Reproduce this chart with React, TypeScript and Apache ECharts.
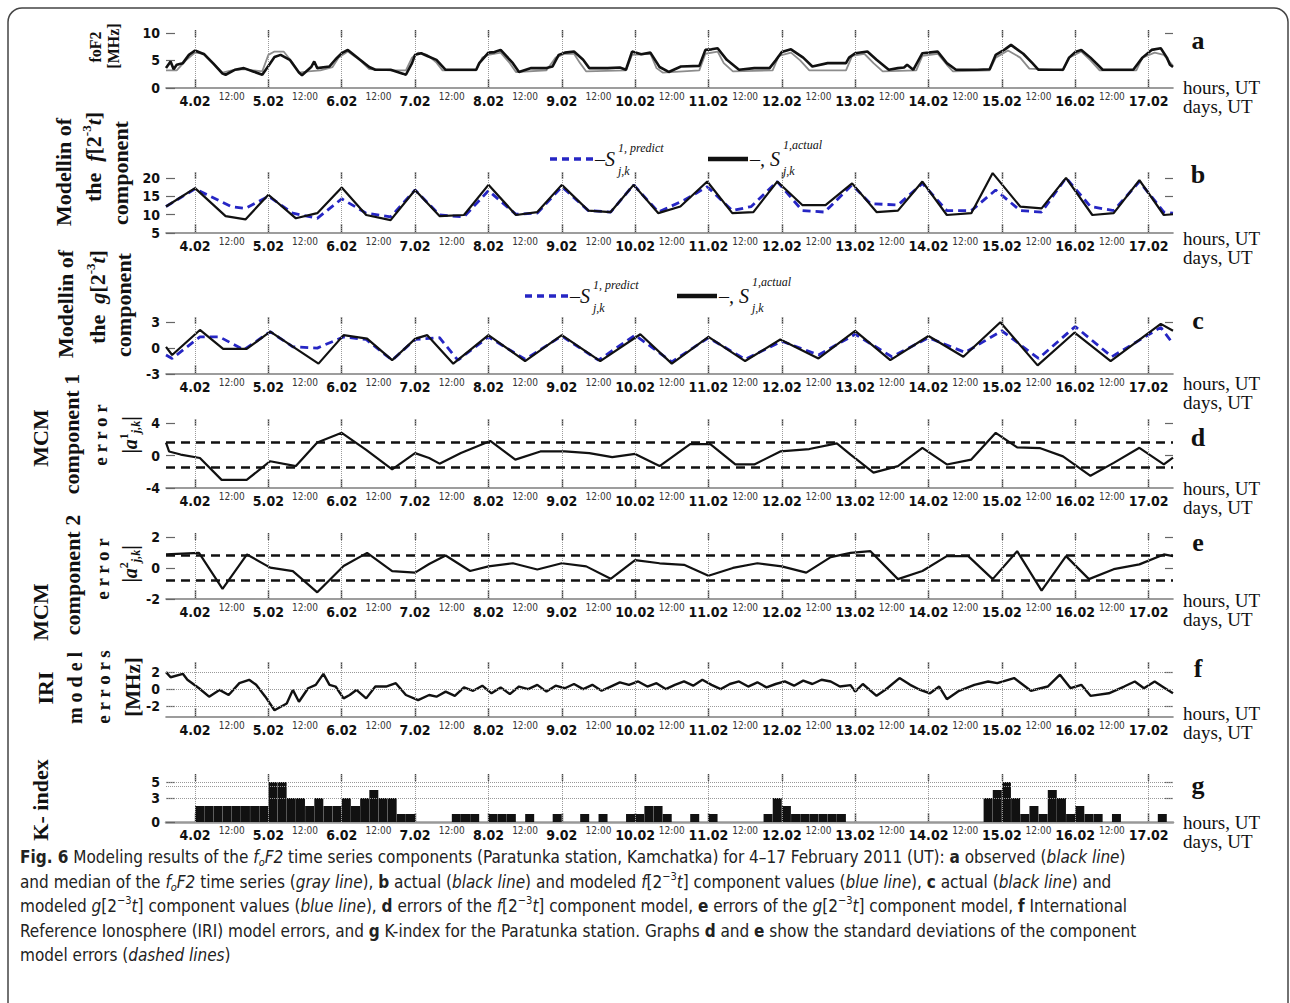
import React, { useEffect, useRef } from 'react';
import * as echarts from 'echarts';

// ---------- axis categories / ticks ----------
const DAY_LABELS = ['4.02','5.02','6.02','7.02','8.02','9.02','10.02','11.02','12.02','13.02','14.02','15.02','16.02','17.02'];
const HALF_LABEL = '12:00';
const X_MIN = -9.5;
const X_MAX = 320;

// ---------- panel a: foF2 observed (black) and median (gray), [hour from 4.02 00UT, MHz] ----------
const FOF2_OBS = [
  [-9.5,3.6],[-8,4.8],[-7,3.4],[-6,4.2],[-4,4.5],[-2,6.0],[0,6.8],[3,6.1],[6,4.4],[9,2.6],[10,2.4],[13,3.3],[16,3.6],[19,3.0],[22,2.4],
  [24,4.0],[26,5.6],[28,6.0],[31,5.1],[34,2.8],[35,2.3],[38,3.8],[39,4.8],[40,3.6],[44,3.9],[46,5.2],[48,6.3],[50,6.9],[54,5.1],[57,3.8],
  [59,3.3],[64,3.3],[68,2.6],[69,2.4],[71,4.5],[72,6.0],[74,6.3],[76,5.8],[79,5.1],[82,3.3],[86,3.3],[92,3.3],[93,4.5],[96,6.4],[98,6.5],
  [100,6.9],[104,4.5],[106,2.9],[110,3.6],[115,3.6],[117,3.9],[119,6.0],[121,6.4],[124,6.6],[127,5.1],[129,3.6],[135,3.6],[139,3.7],
  [141,3.3],[143,6.6],[146,6.1],[149,6.4],[152,3.8],[155,2.9],[159,3.9],[165,4.0],[167,6.9],[169,7.0],[171,7.2],[174,5.1],[178,3.3],
  [183,3.6],[188,3.6],[190,5.0],[192,6.5],[195,7.0],[199,5.5],[202,3.9],[207,4.5],[213,4.5],[214,5.5],[216,6.3],[220,6.6],[223,5.1],
  [227,3.3],[230,3.6],[232,3.7],[233,4.2],[235,3.3],[238,6.3],[240,6.4],[243,6.6],[246,4.5],[249,3.3],[256,3.3],[260,3.4],[262,6.0],
  [265,7.0],[267,7.8],[269,7.0],[271,6.2],[274,4.5],[276,3.3],[284,3.3],[286,5.5],[288,6.5],[290,6.9],[293,5.5],[297,3.3],[307,3.3],
  [310,5.5],[313,6.9],[316,7.2],[318,5.5],[319,4.2],[320,3.8]
];
const FOF2_MEDIAN = [
  [-9.5,3.2],[-6,3.2],[-3,5.0],[0,6.4],[3,6.2],[6,4.5],[9,2.8],[12,3.2],[16,3.4],[19,3.2],[22,3.0],[24,6.0],[26,6.6],[29,6.6],[32,4.5],
  [34,2.8],[37,3.0],[41,3.2],[45,3.8],[47,5.5],[50,6.6],[54,5.0],[57,3.4],[64,3.2],[69,3.2],[71,5.5],[73,6.4],[76,6.0],[79,4.6],[81,3.2],
  [92,3.2],[94,5.5],[96,6.0],[100,6.4],[103,4.5],[105,2.9],[115,3.2],[118,5.5],[121,6.2],[124,6.2],[126,4.5],[128,3.0],[141,3.2],
  [143,6.0],[149,6.2],[151,3.6],[153,2.8],[165,3.2],[167,6.2],[171,6.6],[173,4.5],[176,3.0],[189,3.2],[191,5.8],[195,6.4],[198,5.0],
  [201,3.2],[213,3.2],[215,5.8],[219,6.2],[222,4.5],[225,3.0],[236,3.2],[238,5.8],[243,6.2],[246,4.2],[248,3.0],[260,3.2],[262,5.5],
  [266,6.8],[270,5.5],[273,3.5],[284,3.2],[286,5.5],[290,6.6],[293,5.0],[296,3.2],[308,3.2],[310,5.5],[314,6.4],[317,6.0],[320,4.0]
];

// ---------- panel b: f[2^-3 t] component ----------
const F_ACTUAL = [
  [-9.5,12.2],[0,17.2],[10,9.6],[16.5,8.7],[24,15.4],[33,9.0],[40,10.4],[48,17.4],[56,9.9],[64,8.5],[72,16.7],[80,9.6],[88,9.9],
  [96,18.1],[105,9.9],[112,10.7],[120,18.1],[128.7,11.1],[136,10.7],[143.5,18.1],[151.6,10.4],[158.8,12.2],[167.6,19.0],[175.8,10.4],
  [182.7,10.7],[190.5,19.0],[198.7,12.6],[206.3,12.6],[215,18.5],[223,10.7],[230,11.1],[238,19.0],[246,9.9],[254,10.4],[261,21.3],
  [270,12.2],[277,11.7],[285,20.0],[293.6,9.9],[300.6,10.4],[309,19.4],[317,9.9],[320,10.1]
];
const F_PREDICT = [
  [-9.5,12.2],[0,17.0],[11.8,12.2],[16.5,11.7],[24,15.0],[32,10.4],[40,9.0],[48,14.3],[56,10.4],[64,9.4],[72,16.7],[80,9.9],[88,9.4],
  [96,16.5],[105,10.1],[112,10.4],[120,17.6],[128.7,11.1],[136,10.7],[143.5,18.1],[151.6,10.7],[160,13.9],[167.6,17.6],[175.8,11.1],
  [182,12.2],[190.5,19.0],[198.7,11.1],[206,10.7],[215,18.1],[221,13.0],[230,12.6],[238,18.5],[246,11.1],[254,11.1],[262,16.7],
  [270,11.1],[277,10.7],[285,20.0],[293,12.2],[300.6,11.1],[309,19.0],[317,10.7],[320,10.4]
];

// ---------- panel c: g[2^-3 t] component ----------
const G_ACTUAL = [
  [-9.5,0.15],[-7.5,-0.8],[1.6,2.1],[9.2,-0.1],[16.9,-0.1],[24.6,1.9],[40.4,-1.8],[48.6,1.5],[56.3,1.1],[64.5,-1.4],[72.1,1.1],
  [76,1.5],[84.5,-1.8],[96,1.5],[108,-1.5],[120,1.5],[132.6,-1.5],[145.7,1.6],[156,-1.8],[168,1.3],[180,-1.5],[191.5,1.0],[204,-1.2],
  [216,2.0],[227.5,-1.4],[240,1.4],[251.4,-1.0],[263.5,3.0],[275.7,-2.0],[287.8,1.8],[299.6,-1.5],[316,2.8],[320,2.0]
];
const G_PREDICT = [
  [-9.5,-0.8],[-7.5,-1.2],[1.6,1.3],[8,1.3],[16,-0.2],[24.6,1.9],[32,0.15],[40,0.0],[48.6,1.3],[56,1.0],[64.5,-1.4],[72,1.0],[80,1.2],
  [86,-1.4],[96,1.3],[108,-1.3],[120,1.4],[132,-1.4],[144,1.5],[156,-1.6],[168,1.2],[180,-1.3],[192,0.8],[204,-0.8],[216,1.6],
  [228,-1.0],[240,1.2],[252,-0.5],[264,2.0],[276,-1.2],[288,2.5],[300,-1.0],[316,2.4],[320,0.5]
];

// ---------- panel d: MCM component 1 error, std lines ----------
const ERR1 = [
  [-9.5,1.6],[-8.5,0.5],[-4.7,0.12],[1.6,-0.3],[8.7,-3.0],[16.9,-3.0],[24.6,-0.7],[33,-1.3],[40,1.6],[48,2.8],[56,0.7],[64.5,-1.7],
  [72,0.3],[76.6,-0.3],[80,-1.0],[87,0.3],[96.6,1.8],[104.8,-0.5],[113,0.5],[121,0.5],[129,0.3],[136.5,-0.2],[144,0.2],[152,-1.3],
  [162,1.4],[168.6,1.4],[176.8,-1.1],[183,-1.1],[191.5,0.5],[201,0.8],[210,1.5],[214.5,0.1],[222,-2.1],[230,-1.3],[238,0.95],
  [246,-1.1],[254,-0.5],[262,2.8],[269,1.0],[276.6,0.9],[284,-0.1],[293,-2.5],[300.6,-0.9],[309,0.95],[317,-1.1],[320,-0.25]
];
const ERR1_STD = [1.6, -1.4];

// ---------- panel e: MCM component 2 error, std lines ----------
const ERR2 = [
  [-9.5,0.87],[1.3,0.97],[9,-1.35],[17,0.87],[24.6,0.02],[32,-0.2],[40,-1.57],[48.6,0.13],[56.3,0.97],[64.5,-0.2],[72,-0.3],
  [76.6,0.25],[82,0.8],[90,-0.2],[96,0.1],[104,0.3],[112,-0.1],[120,0.3],[128,0.1],[136,-0.7],[144,0.5],[152,0.3],[160,0.2],
  [168,-0.5],[176,0.0],[184,0.3],[192,0.1],[200,-0.3],[208,0.7],[214.5,0.97],[221,1.08],[230,-0.72],[238,-0.2],[246,0.76],
  [253,0.76],[261,-0.72],[269,1.08],[277,-1.46],[285,0.76],[292.5,-0.72],[300.6,-0.08],[309,0.23],[317,0.87],[320,0.76]
];
const ERR2_STD = [0.8, -0.8];

// ---------- panel f: IRI model errors ----------
const IRI_ERR = [
  [-9.5,2.0],[-8,1.4],[-4,1.8],[-2.5,1.1],[1.3,0.1],[4.6,-0.9],[8,-0.1],[11,-0.7],[14.5,0.7],[17.7,1.1],[20,0.5],[23,-0.9],[26,-2.5],
  [30,-1.7],[32,-0.1],[34,-1.5],[37,0.1],[39.5,0.5],[42,1.8],[44,0.5],[46,0.3],[48.6,-1.1],[50.6,-0.7],[52.8,-0.1],[56,-1.1],[59,0.3],
  [62.5,0.3],[65.7,0.7],[69,-0.7],[73,-1.3],[76.6,-0.7],[79,-0.9],[82,-0.3],[85,-0.8],[88,0.2],[91,-0.2],[94,0.4],[97,-0.5],[100,0.2],
  [103,-0.6],[106,0.3],[109,0.0],[112,0.5],[115,-0.3],[118,0.4],[121,0.1],[124,0.6],[127,0.0],[130,0.5],[133,-0.2],[136,0.3],[139,0.8],
  [142,0.5],[145,0.9],[148,0.3],[151,0.7],[154,0.0],[157,0.5],[160,0.9],[163,0.4],[166,1.1],[169,0.5],[172,0.0],[175,0.6],[178,0.9],
  [181,0.3],[184,0.8],[187,0.2],[190,0.6],[193,0.9],[196,0.4],[199,1.0],[202,0.6],[205,1.1],[208,0.9],[211,0.3],[214.5,0.47],
  [216,-0.3],[218.5,0.6],[223,-0.8],[226,-0.05],[230.5,1.3],[234,0.5],[237,-0.05],[240.5,-0.5],[243.5,0.3],[246,-1.2],[250,-0.2],
  [255,0.5],[259.5,0.9],[262.5,0.7],[268,1.3],[273.5,-0.2],[279,0.3],[283,1.7],[286.5,0.1],[290,0.5],[293,-0.8],[299,-0.5],[304,0.3],
  [307.5,0.9],[310.5,0.1],[314,0.9],[317,0.2],[320,-0.5]
];

// ---------- panel g: K-index (3-hour intervals, start hour) ----------
const K_START = [0,3,6,9,12,15,18,21,24,27,30,33,36,39,42,45,48,51,54,57,60,63,66,69,84,87,90,96,99,102,108,117,126,132,141,
  144,147,150,153,162,168,186,189,192,195,198,201,204,207,210,258,261,264,267,270,273,276,279,282,285,288,291,294,300,315];
const K_VALUE = [2,2,2,2,2,2,2,2,5,5,3,3,2,3,2,2,3,2,3,4,3,3,1,1,1,1,1,1,1,1,1,1,1,1,1,
  1,2,2,1,1,1,1,3,2,1,1,1,1,1,1,3,4,5,3,1,2,1,4,3,1,2,1,1,1,1];

// ---------- layout ----------
const NARROW = '"Liberation Sans Narrow","Arial Narrow","DejaVu Sans Condensed",sans-serif';
const SERIF = '"Liberation Serif","Times New Roman",serif';
const BLUE = '#2626c4';

const PANELS = [
  { top: 30, height: 58, min: 0, max: 10.5, ticks: [0, 5, 10], rticks: [10] },
  { top: 172, height: 61, min: 5, max: 21.6, ticks: [5, 10, 15, 20], rticks: [15, 20] },
  { top: 317, height: 57, min: -3, max: 3.6, ticks: [-3, 0, 3], rticks: [3] },
  { top: 419, height: 69, min: -4, max: 4.5, ticks: [-4, 0, 4], rticks: [0, 4] },
  { top: 533, height: 66, min: -2, max: 2.25, ticks: [-2, 0, 2], rticks: [0, 2] },
  { top: 662, height: 55, min: -3.3, max: 3.2, ticks: [-2, 0, 2], rticks: [-2, 2] },
  { top: 774, height: 48, min: 0, max: 6, ticks: [0, 3, 5], rticks: [3, 5] },
];

const RIGHT = [
  { letter: 'a', ly: 40, hy: 87, dy: 106 },
  { letter: 'b', ly: 174, hy: 238, dy: 257 },
  { letter: 'c', ly: 320, hy: 383, dy: 402 },
  { letter: 'd', ly: 437, hy: 488, dy: 507 },
  { letter: 'e', ly: 542, hy: 600, dy: 619 },
  { letter: 'f', ly: 668, hy: 713, dy: 732 },
  { letter: 'g', ly: 785, hy: 822, dy: 841 },
];

const CAPTION = [
  '{b|Fig. 6} Modeling results of the {i|f}{sub|o}{i|F2} time series components (Paratunka station, Kamchatka) for 4–17 February 2011 (UT): {b|a} observed ({i|black line})',
  'and median of the {i|f}{sub|o}{i|F2} time series ({i|gray line}), {b|b} actual ({i|black line}) and modeled {i|f}[2{sup|−3}{i|t}] component values ({i|blue line}), {b|c} actual ({i|black line}) and',
  'modeled {i|g}[2{sup|−3}{i|t}] component values ({i|blue line}), {b|d} errors of the {i|f}[2{sup|−3}{i|t}] component model, {b|e} errors of the {i|g}[2{sup|−3}{i|t}] component model, {b|f} International',
  'Reference Ionosphere (IRI) model errors, and {b|g} K-index for the Paratunka station. Graphs {b|d} and {b|e} show the standard deviations of the component',
  'model errors ({i|dashed lines})',
];

function buildOption() {
  const DAY_HOURS = DAY_LABELS.map((_, i) => i * 24);
  const HALF_HOURS = DAY_LABELS.slice(0, -1).map((_, i) => i * 24 + 12);

  const grid: any[] = [];
  const xAxis: any[] = [];
  const yAxis: any[] = [];
  PANELS.forEach((p, i) => {
    grid.push({ left: 166, right: 117, top: p.top, height: p.height });
    xAxis.push({
      gridIndex: i, type: 'value', min: X_MIN, max: X_MAX, position: 'bottom',
      axisLine: { show: true, onZero: false, lineStyle: { color: i === 6 ? '#999' : '#7c7c7c', width: i === 6 ? 2.5 : 1.6 } },
      axisTick: { show: true, inside: true, length: 9, customValues: DAY_HOURS, lineStyle: { color: '#444', width: 1.4 } },
      axisLabel: { show: true, customValues: DAY_HOURS, margin: 6, formatter: (v: number) => DAY_LABELS[Math.round(v / 24)],
        fontFamily: NARROW, fontWeight: 'bold', fontSize: 14, color: '#111' },
      splitLine: { show: false },
    });
    xAxis.push({
      gridIndex: i, type: 'value', min: X_MIN, max: X_MAX, position: 'bottom',
      axisLine: { show: false, onZero: false }, axisTick: { show: false },
      axisLabel: { show: true, customValues: HALF_HOURS, margin: 3, formatter: () => HALF_LABEL,
        fontFamily: NARROW, fontSize: 10, color: '#333' },
      splitLine: { show: false },
    });
    xAxis.push({
      gridIndex: i, type: 'value', min: X_MIN, max: X_MAX, position: 'top',
      axisLine: { show: false, onZero: false },
      axisTick: { show: true, inside: true, length: 7, customValues: DAY_HOURS, lineStyle: { color: '#444', width: 1.4 } },
      axisLabel: { show: false }, splitLine: { show: false },
    });
    yAxis.push({
      gridIndex: i, type: 'value', min: p.min, max: p.max, position: 'left',
      axisLine: { show: false, onZero: false },
      axisTick: { show: true, inside: true, length: 9, customValues: p.ticks, lineStyle: { color: '#666', width: 1.2 } },
      axisLabel: { show: true, customValues: p.ticks, margin: 6, fontFamily: NARROW, fontWeight: 'bold', fontSize: 14, color: '#111' },
      splitLine: { show: false },
    });
    yAxis.push({
      gridIndex: i, type: 'value', min: p.min, max: p.max, position: 'right',
      axisLine: { show: false, onZero: false },
      axisTick: { show: true, inside: true, length: 8, customValues: p.rticks, lineStyle: { color: '#666', width: 1.2 } },
      axisLabel: { show: false }, splitLine: { show: false },
    });
  });

  const dayLines = {
    silent: true, symbol: 'none', label: { show: false },
    lineStyle: { type: 'dotted', color: '#9a9a9a', width: 1 },
    data: DAY_HOURS.map((h) => ({ xAxis: h })),
  };
  const ax = (i: number) => ({ xAxisIndex: 3 * i, yAxisIndex: 2 * i });
  const line = (i: number, data: number[][], color: string, width: number, type: any, extra: any = {}) => ({
    type: 'line', ...ax(i), data, showSymbol: false, symbol: 'none', silent: true,
    lineStyle: { color, width, type }, z: 3, ...extra,
  });
  const hLines = (vals: number[], style: any) => ({
    silent: true, symbol: 'none', label: { show: false }, lineStyle: style,
    data: vals.map((v) => ({ yAxis: v })),
  });

  const series: any[] = [
    line(0, FOF2_MEDIAN, '#8c8c8c', 1.8, 'solid', { markLine: dayLines }),
    line(0, FOF2_OBS, '#111', 2.6, 'solid'),
    line(1, F_PREDICT, BLUE, 2.8, [8, 5], { markLine: dayLines }),
    line(1, F_ACTUAL, '#111', 2.2, 'solid'),
    line(2, G_PREDICT, BLUE, 2.8, [8, 5], { markLine: dayLines }),
    line(2, G_ACTUAL, '#111', 2.2, 'solid'),
    line(3, ERR1, '#111', 2.2, 'solid', { markLine: dayLines }),
    { type: 'line', ...ax(3), data: [], markLine: hLines(ERR1_STD, { type: [9, 6], color: '#111', width: 2.6 }) },
    line(4, ERR2, '#111', 2.2, 'solid', { markLine: dayLines }),
    { type: 'line', ...ax(4), data: [], markLine: hLines(ERR2_STD, { type: [9, 6], color: '#111', width: 2.6 }) },
    line(5, IRI_ERR, '#111', 2.4, 'solid', { markLine: dayLines }),
    { type: 'line', ...ax(5), data: [], markLine: hLines([-2, 0, 2], { type: 'dotted', color: '#9a9a9a', width: 1 }) },
    { type: 'bar', ...ax(6), data: K_START.map((s, k) => [s + 1.5, K_VALUE[k]]), barWidth: 9, silent: true,
      itemStyle: { color: '#111' }, markLine: dayLines },
    { type: 'line', ...ax(6), data: [], markLine: hLines([3, 4.5, 5], { type: 'dotted', color: '#9a9a9a', width: 1 }) },
  ];

  // ---------- graphic texts ----------
  const g: any[] = [];
  g.push({ type: 'rect', shape: { x: 8, y: 8, width: 1280, height: 1010, r: 14 }, style: { fill: 'none', stroke: '#444', lineWidth: 1.5 }, silent: true });

  const sty = (extra: any) => ({ fontFamily: SERIF, fontWeight: 'bold', fill: '#111', ...extra });
  const titleRich = (fs: number) => ({
    it: sty({ fontSize: fs, fontStyle: 'italic' }),
    sup: sty({ fontSize: Math.round(fs * 0.6), verticalAlign: 'top' }),
    sub: sty({ fontSize: Math.round(fs * 0.6), fontStyle: 'italic', verticalAlign: 'bottom' }),
    ba: sty({ fontSize: fs, fontStyle: 'italic' }),
  });
  const vText = (x: number, y: number, text: string, fs: number) => ({
    type: 'text', x, y, rotation: Math.PI / 2, silent: true,
    style: { text, fontFamily: SERIF, fontWeight: 'bold', fontSize: fs, fill: '#111',
      align: 'center', verticalAlign: 'middle', textAlign: 'center', textVerticalAlign: 'middle',
      lineHeight: fs + 4, rich: titleRich(fs) },
  });
  g.push(vText(95, 47, 'foF2', 16), vText(113, 46, '[MHz]', 16));
  g.push(vText(63, 172, 'Modellin of', 22), vText(93, 157, 'the  {it|f}[2{sup|-3}{it|t}]', 22), vText(120, 173, 'component', 22));
  g.push(vText(65, 304, 'Modellin of', 22), vText(97, 297, 'the  {it|g}[2{sup|-3}{it|t}]', 22), vText(123, 305, 'component', 22));
  g.push(vText(40, 438, 'MCM', 22), vText(71, 434, 'component 1', 22), vText(100, 435, 'e r r o r', 19), vText(130, 435, '|{ba|a}{sup|1}{sub|j,k}|', 20));
  g.push(vText(40, 612, 'MCM', 22), vText(72, 575, 'component 2', 22), vText(102, 569, 'e r r o r', 19), vText(130, 564, '|{ba|a}{sup|2}{sub|j,k}|', 20));
  g.push(vText(45, 688, 'IRI', 22), vText(75, 688, 'm o d e l', 20), vText(103, 687, 'e r r o r s', 19), vText(133, 687, '[MHz]', 21));
  g.push(vText(40, 800, 'K- index', 22));

  RIGHT.forEach((r) => {
    g.push({ type: 'text', x: 1198, y: r.ly, silent: true, style: { text: r.letter, fontFamily: SERIF, fontWeight: 'bold', fontSize: 26, fill: '#111', align: 'center', verticalAlign: 'middle', textAlign: 'center', textVerticalAlign: 'middle' } });
    g.push({ type: 'text', x: 1183, y: r.hy, silent: true, style: { text: 'hours, UT', fontFamily: SERIF, fontSize: 19, fill: '#111', align: 'left', verticalAlign: 'middle', textAlign: 'left', textVerticalAlign: 'middle' } });
    g.push({ type: 'text', x: 1183, y: r.dy, silent: true, style: { text: 'days, UT', fontFamily: SERIF, fontSize: 19, fill: '#111', align: 'left', verticalAlign: 'middle', textAlign: 'left', textVerticalAlign: 'middle' } });
  });

  // legends in b and c
  const legend = (y: number, bx: number, kx: number) => {
    const it = (x: number, yy: number, text: string, fs: number) => ({ type: 'text', x, y: yy, silent: true,
      style: { text, fontFamily: SERIF, fontStyle: 'italic', fontSize: fs, fill: '#111', align: 'left', verticalAlign: 'middle', textAlign: 'left', textVerticalAlign: 'middle' } });
    return [
      { type: 'line', silent: true, shape: { x1: bx, y1: y, x2: bx + 43, y2: y }, style: { stroke: BLUE, lineWidth: 3.5, lineDash: [7, 5] } },
      it(bx + 45, y, '–S', 20), it(bx + 68, y - 11, '1, predict', 12), it(bx + 68, y + 12, 'j,k', 12),
      { type: 'line', silent: true, shape: { x1: kx, y1: y, x2: kx + 40, y2: y }, style: { stroke: '#111', lineWidth: 4.5 } },
      it(kx + 42, y, '–, S', 20), it(kx + 75, y - 14, '1,actual', 12), it(kx + 75, y + 12, 'j,k', 12),
    ];
  };
  g.push(...legend(159, 550, 708));
  g.push(...legend(296, 525, 677));

  // caption
  const cap = (w: string, s: string, extra: any = {}) => ({ fontFamily: NARROW, fontSize: 17, fontWeight: w, fontStyle: s, fill: '#222', ...extra });
  CAPTION.forEach((t, k) => {
    g.push({ type: 'text', x: 20, y: 857 + k * 24.5, silent: true,
      style: { text: t, ...cap('normal', 'normal'), lineHeight: 22, align: 'left', verticalAlign: 'middle', textAlign: 'left', textVerticalAlign: 'middle',
        rich: {
          b: cap('bold', 'normal', { lineHeight: 22 }),
          i: cap('normal', 'italic', { lineHeight: 22 }),
          sup: cap('normal', 'normal', { fontSize: 11, verticalAlign: 'top', lineHeight: 22 }),
          sub: cap('normal', 'italic', { fontSize: 11, verticalAlign: 'bottom', lineHeight: 22 }),
        } } });
  });

  return { animation: false, backgroundColor: '#fff', grid, xAxis, yAxis, series, graphic: g };
}

export default function App() {
  const ref = useRef<HTMLDivElement>(null);
  useEffect(() => {
    const chart = echarts.init(ref.current as HTMLDivElement, null, { renderer: 'svg' });
    chart.setOption(buildOption() as any);
    return () => chart.dispose();
  }, []);
  return <div ref={ref} style={{ position: 'fixed', left: 0, top: 0, width: 1290, height: 1003, background: '#fff' }} />;
}
